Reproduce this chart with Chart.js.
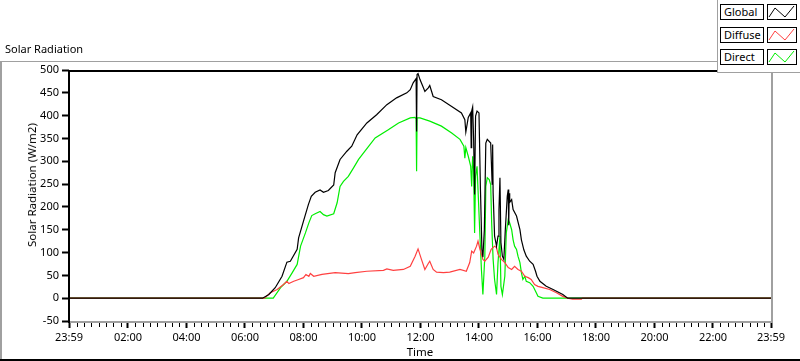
<!DOCTYPE html>
<html><head><meta charset="utf-8">
<script src="https://cdn.jsdelivr.net/npm/chart.js@4.4.1/dist/chart.umd.min.js"></script>
<style>
html,body{margin:0;padding:0;background:#fff;}
#wrap{position:relative;width:800px;height:361px;overflow:hidden;font-family:"Noto Sans",sans-serif;color:#000;}
canvas{position:absolute;left:0;top:0;}
#title{position:absolute;left:5px;top:41px;font-size:11px;line-height:16px;white-space:nowrap;}
#ytitle{position:absolute;left:32px;top:185px;font-size:11.5px;line-height:14px;white-space:nowrap;transform:translate(-50%,-50%) rotate(-90deg);}
#legendPanel{position:absolute;left:717px;top:0;width:83px;height:73px;background:#fff;border-left:1px solid #a0a0a0;border-bottom:1px solid #a0a0a0;box-sizing:border-box;}
.item{position:absolute;left:720px;width:44px;height:16px;border:1px solid #000;box-sizing:border-box;font-size:11px;line-height:14px;padding-left:3px;background:#fff;white-space:nowrap;}
.sw{position:absolute;left:767px;width:30px;height:16px;border:1px solid #000;box-sizing:border-box;background:#fff;}
.sw svg{position:absolute;left:0;top:0;}
</style></head>
<body>
<div id="wrap">
<canvas id="c" width="800" height="361"></canvas>
<div id="title">Solar Radiation</div>
<div id="ytitle">Solar Radiation (W/m2)</div>
<div id="legendPanel"></div>
<div class="item" style="top:4px">Global</div>
<div class="sw" style="top:4px"><svg width="28" height="14"><polyline points="1,12 7,3 17,12 26,1" fill="none" stroke="#000" stroke-width="1"/></svg></div>
<div class="item" style="top:27px">Diffuse</div>
<div class="sw" style="top:27px"><svg width="28" height="14"><polyline points="1,12 7,3 17,12 26,1" fill="none" stroke="#ff4040" stroke-width="1"/></svg></div>
<div class="item" style="top:49px">Direct</div>
<div class="sw" style="top:49px"><svg width="28" height="14"><polyline points="1,12 7,3 17,12 26,1" fill="none" stroke="#00ee00" stroke-width="1"/></svg></div>
</div>
<script>
// ---- data (time of day "HH:MM", "-00:01" = 23:59 of previous day) ----
const globalTimes = ["-00:01","06:36","06:49","07:02","07:16","07:26","07:33","07:47","07:50","08:00","08:10","08:16","08:24","08:34","08:41","08:51","09:02","09:05","09:15","09:29","09:39","09:50","10:10","10:30","10:51","11:11","11:32","11:39","11:45","11:51","11:52","11:53","11:55","11:59","12:06","12:09","12:16","12:19","12:26","12:43","13:04","13:24","13:31","13:33","13:38","13:43","13:44","13:45","13:47","13:49","13:51","13:53","13:56","14:00","14:03","14:06","14:08","14:11","14:14","14:17","14:24","14:27","14:28","14:29","14:32","14:36","14:39","14:41","14:43","14:45","14:48","14:51","14:54","14:58","15:00","15:01","15:02","15:03","15:07","15:10","15:17","15:24","15:27","15:32","15:37","15:44","15:51","15:56","15:59","16:05","16:18","16:32","16:52","17:02","23:59"];
const globalValues = [0,0,8,23,48,79,81,107,132,169,205,223,232,237,232,236,248,275,304,322,333,358,384,402,424,439,450,457,472,481,365,490,492,479,461,453,461,466,442,435,420,406,391,364,396,406,330,410,419,348,227,399,410,406,238,107,90,150,340,348,340,250,337,231,136,114,136,194,264,122,92,85,150,223,238,160,230,210,216,194,180,150,128,106,92,81,74,59,48,37,26,19,8,0,0];

const diffuseTimes = ["-00:01","06:40","06:52","07:06","07:19","07:26","07:30","07:40","07:50","08:00","08:05","08:11","08:14","08:21","08:38","09:05","09:32","09:46","10:10","10:44","10:51","11:04","11:25","11:39","11:49","11:55","12:02","12:09","12:16","12:19","12:26","12:33","12:47","13:00","13:21","13:34","13:41","13:45","13:49","13:55","13:58","14:02","14:05","14:08","14:12","14:19","14:25","14:32","14:36","14:39","14:46","14:53","15:00","15:07","15:13","15:20","15:27","15:34","15:41","15:47","15:54","16:01","16:11","16:25","16:39","16:52","17:02","17:12","17:30","17:32","23:59"];
const diffuseValues = [0,0,12,19,30,37,32,37,41,45,52,48,54,48,52,56,54,56,59,61,64,61,63,70,92,108,85,63,76,81,63,57,56,57,63,59,78,103,99,114,125,107,96,85,81,90,107,114,111,96,85,78,67,63,70,63,59,48,45,41,30,26,23,19,12,4,0,-2,-2,0,0];

const directTimes = ["-00:01","06:58","07:13","07:26","07:37","07:47","07:54","08:04","08:11","08:17","08:24","08:34","08:41","08:48","09:02","09:09","09:15","09:22","09:32","09:43","09:53","10:06","10:27","10:54","11:15","11:39","11:49","11:51","11:52","11:53","11:59","12:19","12:43","13:04","13:21","13:29","13:31","13:33","13:38","13:43","13:45","13:47","13:49","13:51","13:53","13:56","13:58","14:02","14:05","14:08","14:12","14:14","14:17","14:21","14:24","14:26","14:29","14:32","14:36","14:39","14:43","14:45","14:48","14:53","14:56","15:00","15:03","15:07","15:10","15:13","15:17","15:20","15:24","15:27","15:30","15:34","15:37","15:44","15:51","15:56","16:01","16:11","23:59"];
const directValues = [0,0,23,37,56,74,114,143,165,181,185,190,183,180,185,209,245,256,267,286,304,322,351,369,384,395,396,393,278,395,395,388,377,362,348,333,307,330,311,289,245,311,282,143,267,289,238,136,63,8,92,245,264,260,249,165,85,41,8,78,136,26,8,48,143,172,165,150,128,114,107,92,78,56,41,48,37,34,26,15,4,0,0];

const xTickTimes = ["-00:01","02:00","04:00","06:00","08:00","10:00","12:00","14:00","16:00","18:00","20:00","22:00","23:59"];
const xTickLabels = ["23:59","02:00","04:00","06:00","08:00","10:00","12:00","14:00","16:00","18:00","20:00","22:00","23:59"];
const yMin = -50, yMax = 500, yStep = 50;

function toMin(t){const neg=t[0]==='-';const s=neg?t.slice(1):t;const p=s.split(':').map(Number);const v=p[0]*60+p[1];return neg?-v:v;}
function pts(times, vals){return times.map((t,i)=>({x:toMin(t),y:vals[i]}));}

const FONT = {family:"Noto Sans", size:11};

const framePlugin = {
  id:'frame',
  beforeDraw(chart){
    const ctx = chart.ctx;
    ctx.save();
    ctx.fillStyle='#a0a0a0';
    ctx.fillRect(0,61,717,1);
    ctx.fillRect(0,61,2,300);
    ctx.fillStyle='#000';
    ctx.fillRect(0,359,800,2);
    ctx.restore();
  },
  afterDraw(chart){
    const {ctx, chartArea:a, scales:{x}} = chart;
    ctx.save();
    ctx.fillStyle='#000';
    for(let m=15;m<1439;m+=15){
      if(m%120===0) continue;
      const px=Math.round(x.getPixelForValue(m));
      ctx.fillRect(px,323,1,4);
    }
    ctx.fillStyle='#000';
    ctx.fillRect(a.left-1,a.top,a.right-a.left+2,2);
    ctx.fillRect(a.left-1,a.top,2,a.bottom-a.top+2);
    ctx.fillStyle='#a0a0a0';
    ctx.fillRect(a.right,a.top+2,2,a.bottom-a.top);
    ctx.fillRect(a.left+1,a.bottom,a.right-a.left+1,2);
    ctx.restore();
  }
};

new Chart(document.getElementById('c'),{
  type:'line',
  data:{datasets:[
    {label:'Global',data:pts(globalTimes,globalValues),borderColor:'#000',order:0},
    {label:'Diffuse',data:pts(diffuseTimes,diffuseValues),borderColor:'#ff4040',order:1},
    {label:'Direct',data:pts(directTimes,directValues),borderColor:'#00ee00',order:2}
  ]},
  options:{
    responsive:false,animation:false,devicePixelRatio:1,
    layout:{padding:{top:70,right:29,left:0,bottom:0}},
    elements:{line:{borderWidth:1.2,tension:0,fill:false},point:{radius:0,hoverRadius:0}},
    plugins:{legend:{display:false},tooltip:{enabled:false},title:{display:false}},
    events:[],
    scales:{
      x:{type:'linear',min:toMin(xTickTimes[0]),max:toMin(xTickTimes[xTickTimes.length-1]),
        afterBuildTicks:s=>{s.ticks=xTickTimes.map(t=>({value:toMin(t)}));},
        afterFit:s=>{s.height=40;},
        ticks:{autoSkip:false,maxRotation:0,minRotation:0,padding:3,color:'#000',font:FONT,callback:(v,i)=>xTickLabels[i]},
        grid:{drawOnChartArea:false,drawTicks:true,tickLength:7,tickWidth:2,tickColor:'#000'},
        border:{display:false},
        title:{display:true,text:'Time',color:'#000',font:{family:"Noto Sans",size:11.5},padding:{top:0,bottom:1}}
      },
      y:{min:yMin,max:yMax,
        afterFit:s=>{s.width=69;},
        ticks:{stepSize:yStep,padding:3,color:'#000',font:FONT},
        grid:{drawOnChartArea:false,drawTicks:true,tickLength:7,tickWidth:2,tickColor:'#000'},
        border:{display:false},
        title:{display:false}
      }
    }
  },
  plugins:[framePlugin]
});
</script>
</body></html>
